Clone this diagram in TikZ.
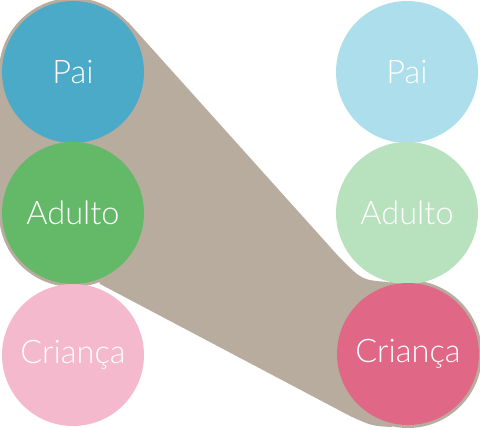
\documentclass[tikz,border=0pt]{standalone}
\usepackage{fontspec}
\setmainfont{Lato}[UprightFont=* Light]
\definecolor{paiforte}{HTML}{4BAAC8}
\definecolor{adultoforte}{HTML}{64B969}
\definecolor{criancafraca}{HTML}{F5B9CD}
\definecolor{paifraco}{HTML}{ACDEEC}
\definecolor{adultofraco}{HTML}{B8E2BE}
\definecolor{criancaforte}{HTML}{E06886}
\definecolor{ligacao}{HTML}{B8AC9F}
\begin{document}
\begin{tikzpicture}[x=0.02cm,y=-0.02cm,
		estado/.style={circle,minimum size=2.84cm,inner sep=0pt,text=white,font=\fontsize{18.5}{22}\selectfont}]
		\useasboundingbox (0,0) rectangle (480,428);
		% transacao cruzada
		\fill[ligacao] (73,72) circle (74);
		\fill[ligacao] (73,213) circle (74);
		\fill[ligacao] (408,354) circle (74);
		\fill[ligacao] (-1,72) -- (128,22) -- (340,258) .. controls (362,280) .. (388,282) -- (408,354)
			-- (392,427) .. controls (372,426) .. (350,416) -- (100,284) -- (73,213) -- (-1,213) -- cycle;
		\node[estado,fill=paiforte] (p1) at (73,72) {Pai};
		\node[estado,fill=adultoforte] (a1) at (73,213) {Adulto};
		\node[estado,fill=criancafraca] (c1) at (73,355) {Criança};
		\node[estado,fill=paifraco] (p2) at (407,72) {Pai};
		\node[estado,fill=adultofraco] (a2) at (407,213) {Adulto};
		\node[estado,fill=criancaforte] (c2) at (408,354) {Criança};
	\end{tikzpicture}
\end{document}
